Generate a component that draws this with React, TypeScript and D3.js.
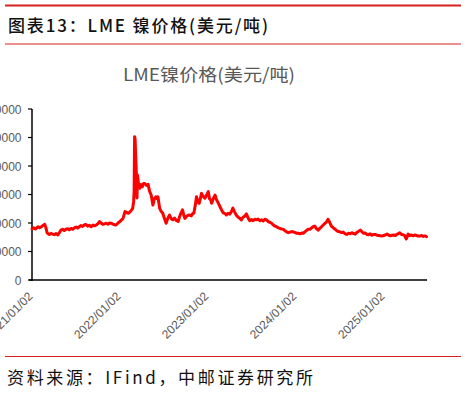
import React from "react";
import * as d3 from "d3";

const headerTitle = "图表13：LME 镍价格(美元/吨)";
const chartTitle = "LME镍价格(美元/吨)";
const sourceText = "资料来源：IFind，中邮证券研究所";

const yTicks = [0, 10000, 20000, 30000, 40000, 50000, 60000];
const xTickDates = ["2021-01-02", "2022-01-02", "2023-01-02", "2024-01-02", "2025-01-02"];
const xTickLabels = ["2021/01/02", "2022/01/02", "2023/01/02", "2024/01/02", "2025/01/02"];

const dates = [
  "2021-01-04","2021-01-11","2021-01-18","2021-01-25","2021-01-29","2021-02-05","2021-02-12","2021-02-19","2021-02-26",
  "2021-03-03","2021-03-08","2021-03-17","2021-03-24","2021-03-31","2021-04-07","2021-04-14","2021-04-21","2021-04-28",
  "2021-05-04","2021-05-11","2021-05-18","2021-05-25","2021-06-01","2021-06-08","2021-06-15","2021-06-22","2021-06-29",
  "2021-07-06","2021-07-13","2021-07-20","2021-07-26","2021-08-02","2021-08-09","2021-08-15","2021-08-23","2021-08-30",
  "2021-09-07","2021-09-14","2021-09-21","2021-09-28","2021-10-05","2021-10-11","2021-10-18","2021-10-25","2021-11-01",
  "2021-11-08","2021-11-15","2021-11-22","2021-11-29","2021-12-06","2021-12-13","2021-12-19","2021-12-27",
  "2022-01-04","2022-01-10","2022-01-17","2022-01-25","2022-02-01","2022-02-08","2022-02-15","2022-02-22","2022-02-26",
  "2022-03-02","2022-03-04","2022-03-06","2022-03-08","2022-03-10","2022-03-14","2022-03-16","2022-03-18","2022-03-22",
  "2022-03-28","2022-04-01","2022-04-07","2022-04-12","2022-04-17","2022-04-24","2022-05-01","2022-05-07","2022-05-14",
  "2022-05-21","2022-05-27","2022-06-02","2022-06-07","2022-06-11","2022-06-18","2022-06-24","2022-07-01","2022-07-08",
  "2022-07-15","2022-07-22","2022-07-29","2022-08-05","2022-08-12","2022-08-19","2022-08-26","2022-09-03","2022-09-09",
  "2022-09-14","2022-09-21","2022-09-26","2022-10-01","2022-10-07","2022-10-14","2022-10-21","2022-10-28","2022-11-03",
  "2022-11-07","2022-11-14","2022-11-18","2022-11-24","2022-11-29","2022-12-05","2022-12-09","2022-12-16","2022-12-23",
  "2022-12-30",
  "2023-01-06","2023-01-11","2023-01-16","2023-01-20","2023-01-27","2023-02-03","2023-02-09","2023-02-17","2023-02-23",
  "2023-03-02","2023-03-09","2023-03-15","2023-03-22","2023-03-29","2023-04-05","2023-04-12","2023-04-18","2023-04-25",
  "2023-05-02","2023-05-09","2023-05-16","2023-05-23","2023-05-30","2023-06-06","2023-06-13","2023-06-20","2023-06-27",
  "2023-07-04","2023-07-11","2023-07-18","2023-07-25","2023-08-01","2023-08-08","2023-08-15","2023-08-22","2023-08-29",
  "2023-09-05","2023-09-12","2023-09-19","2023-09-26","2023-10-03","2023-10-10","2023-10-16","2023-10-23","2023-10-30",
  "2023-11-06","2023-11-13","2023-11-20","2023-11-27","2023-12-04","2023-12-11","2023-12-18","2023-12-24",
  "2024-01-02","2024-01-08","2024-01-14","2024-01-22","2024-01-29","2024-02-04","2024-02-11","2024-02-18","2024-02-25",
  "2024-03-03","2024-03-10","2024-03-16","2024-03-23","2024-03-30","2024-04-06","2024-04-13","2024-04-20","2024-04-27",
  "2024-05-03","2024-05-10","2024-05-17","2024-05-22","2024-05-31","2024-06-07","2024-06-14","2024-06-22","2024-06-29",
  "2024-07-05","2024-07-12","2024-07-19","2024-07-26","2024-08-03","2024-08-10","2024-08-17","2024-08-24","2024-08-31",
  "2024-09-07","2024-09-14","2024-09-21","2024-09-28","2024-10-04","2024-10-11","2024-10-18","2024-10-25","2024-11-01",
  "2024-11-08","2024-11-15","2024-11-22","2024-11-29","2024-12-06","2024-12-13","2024-12-20","2024-12-27",
  "2025-01-03","2025-01-10","2025-01-17","2025-01-24","2025-01-31","2025-02-07","2025-02-14","2025-02-21","2025-02-28",
  "2025-03-06","2025-03-11","2025-03-18","2025-03-25","2025-03-31","2025-04-03","2025-04-07","2025-04-10","2025-04-15",
  "2025-04-22","2025-04-29","2025-05-06","2025-05-12","2025-05-19","2025-05-26","2025-06-03","2025-06-10","2025-06-17",
  "2025-06-24","2025-06-30",
];

const prices = [
  17900,18300,17900,18400,18700,18300,18700,19200,19500,
  18300,16500,16000,16300,16100,15900,16300,15800,16600,
  17500,17800,17400,17800,18000,17600,18100,17800,18300,
  18600,18200,18700,19100,18800,19300,19500,18900,19200,
  18700,19300,19000,19300,19800,20500,20000,19500,19700,
  19900,19600,20000,19900,19600,19400,19300,20000,
  20500,21000,21600,24000,23700,23400,23900,24600,25200,
  27500,31000,50300,49500,45000,36000,28800,36800,34000,
  32200,33500,32700,33900,33900,33200,33600,31200,29800,
  26300,28500,29200,28500,29200,25200,24100,23400,21600,
  19900,21700,22800,21500,21100,21700,20900,20500,22300,
  23400,24600,22800,21600,22300,22700,22800,22500,23400,
  23400,26800,29200,27400,26900,28900,30400,29300,28700,
  29800,
  31000,28500,28100,26900,28600,29800,28200,26900,25800,
  24600,23600,23400,22800,23400,23100,24000,25200,23900,
  22800,22100,21700,21100,22000,22400,23200,21800,20800,
  21200,20800,21300,21100,21400,20800,21100,20700,21300,
  21100,20500,20200,19900,19300,18900,18700,18300,18100,
  17900,17800,17300,16900,16600,16800,17000,16900,
  16600,16400,16400,16200,16500,16400,16900,17400,17800,
  17800,18300,18700,18900,18000,17500,18100,18700,19300,
  19800,20300,21300,20600,18900,18400,17900,17300,17000,
  16900,16600,16800,16300,16000,16400,16200,16600,16300,
  16100,16700,17100,17500,17000,16400,16500,16000,15900,
  16200,15700,16000,16000,15700,15600,15500,15400,
  15600,15800,16100,15700,15500,15700,15800,15600,16100,
  16300,16600,16000,15900,15600,15000,14400,15000,16100,
  15600,15800,15500,15800,15600,15400,15400,15600,15300,
  15500,15200,
];

const W = 466;
const H = 393;
const RED = "#d7201f";
const GRAY = "#595959";

export default function App() {
  const parse = d3.timeParse("%Y-%m-%d");
  const data = dates.map((d, i) => ({ date: parse(d) as Date, value: prices[i] }));

  const x = d3
    .scaleTime()
    .domain([parse("2021-01-02") as Date, parse("2025-07-02") as Date])
    .range([31.5, 427]);
  const y = d3.scaleLinear().domain([0, 60000]).range([280, 109]);

  const line = d3
    .line<{ date: Date; value: number }>()
    .x((d) => x(d.date))
    .y((d) => y(d.value));

  const axisX0 = 32;

  return (
    <svg
      width={W}
      height={H}
      style={{ position: "absolute", left: 0, top: 0, background: "#fff" }}
    >
      <rect x={0} y={0} width={W} height={H} fill="#fff" />
      {/* header */}
      <line x1={5} x2={461} y1={5.5} y2={5.5} stroke={RED} strokeWidth={2} />
      <text
        x={8}
        y={32}
        fontFamily="'Noto Sans CJK SC', sans-serif"
        fontSize={17}
        fontWeight={500}
        fill="#111"
        textLength={260}
        lengthAdjust="spacing"
      >
        {headerTitle}
      </text>
      <line x1={5} x2={461} y1={44} y2={44} stroke={RED} strokeWidth={1} />

      {/* chart title */}
      <text
        x={209}
        y={81}
        textAnchor="middle"
        fontFamily="'Noto Sans CJK SC', sans-serif"
        fontSize={17.5}
        fill={GRAY}
        textLength={172}
        lengthAdjust="spacingAndGlyphs"
      >
        {chartTitle}
      </text>

      {/* y axis */}
      <line x1={axisX0} x2={axisX0} y1={y(60000)} y2={y(0) + 1} stroke="#000" strokeWidth={1.5} />
      {yTicks.map((t) => (
        <g key={t}>
          <line x1={axisX0 - 4} x2={axisX0} y1={y(t)} y2={y(t)} stroke="#000" strokeWidth={1.2} />
          <text
            x={21.5}
            y={y(t) + 4.5}
            textAnchor="end"
            fontFamily="'Liberation Sans', Arial, sans-serif"
            fontSize={12}
            fill={GRAY}
          >
            {t}
          </text>
        </g>
      ))}

      {/* x axis */}
      <line x1={29} x2={427} y1={y(0)} y2={y(0)} stroke="#000" strokeWidth={1.5} />
      {xTickDates.map((d, i) => {
        const px = x(parse(d) as Date);
        return (
          <text
            key={d}
            transform={`translate(${px + 2},${297}) rotate(-45)`}
            textAnchor="end"
            fontFamily="'Liberation Sans', Arial, sans-serif"
            fontSize={12}
            fill={GRAY}
          >
            {xTickLabels[i]}
          </text>
        );
      })}

      {/* series */}
      <path
        d={line(data) || ""}
        fill="none"
        stroke="#ff0000"
        strokeWidth={3}
        strokeLinejoin="round"
        strokeLinecap="round"
      />

      {/* footer */}
      <line x1={5} x2={461} y1={356.5} y2={356.5} stroke={RED} strokeWidth={1} />
      <text
        x={7}
        y={384}
        fontFamily="'Noto Sans CJK SC', sans-serif"
        fontSize={17}
        fill="#111"
        textLength={306}
        lengthAdjust="spacing"
      >
        {sourceText}
      </text>
    </svg>
  );
}
